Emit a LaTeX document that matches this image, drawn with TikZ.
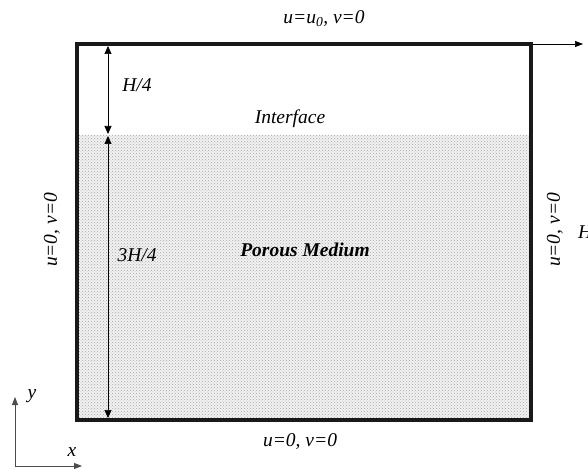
\documentclass[tikz,border=0pt]{standalone}
\usepackage{fontspec}
\setmainfont{Liberation Serif}
\usetikzlibrary{patterns,arrows.meta}
\tikzset{
  lbl/.style={font=\fontsize{19.5}{22}\selectfont\itshape, inner sep=1pt},
  dim/.style={{Triangle[length=8pt,width=7pt]}-{Triangle[length=8pt,width=7pt]}, line width=0.7pt},
  arr/.style={-{Triangle[length=8pt,width=6pt]}, line width=0.7pt},
  axis/.style={-{Triangle[length=8pt,width=6pt]}, line width=0.8pt, draw=black!70, fill=black!70}
}
\begin{document}
\begin{tikzpicture}[x=1pt,y=-1pt]
\useasboundingbox (0,0) rectangle (588,470);
% porous region
\fill[gray!10] (79,135) rectangle (529,418);
\fill[pattern=crosshatch dots, pattern color=gray!70] (79,135) rectangle (529,418);
% box
\draw[line width=4.5pt, draw=black!90] (77,44) rectangle (531,420);
% coordinates
\coordinate (tl) at (108,46);
\coordinate (im) at (108,134);
\coordinate (im2) at (108,136);
\coordinate (bl) at (108,418);
\coordinate (tr) at (533,44);
\coordinate (tre) at (583,44);
\draw[dim] (tl) -- (im);
\draw[dim] (im2) -- (bl);
\draw[arr] (tr) -- (tre);
% axes
\coordinate (o) at (15,466);
\coordinate (ye) at (15,397);
\coordinate (xe) at (82,466);
\draw[axis] (o) -- (ye);
\draw[axis] (o) -- (xe);
% labels
\node[lbl] (top) at (324,19) {u=u\textsubscript{0}, v=0};
\node[lbl] (h4) at (137,85) {H/4};
\node[lbl] (intf) at (290,119) {Interface};
\node[lbl] (h34) at (137,255) {3H/4};
\node[lbl, font=\fontsize{19.5}{22}\selectfont\bfseries\itshape] (pm) at (305,250) {Porous Medium};
\node[lbl, rotate=90] (left) at (52,230) {u=0, v=0};
\node[lbl, rotate=90] (right) at (555,230) {u=0, v=0};
\node[lbl] (bot) at (300,442) {u=0, v=0};
\node[lbl, anchor=west] (hh) at (577,232) {H};
\node[lbl] (yl) at (32,396) {y};
\node[lbl] (xl) at (72,452) {x};
\end{tikzpicture}
\end{document}
